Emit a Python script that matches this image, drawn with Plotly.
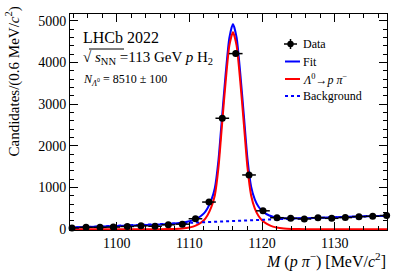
import plotly.graph_objects as go

# ---- data ----
mass = [1093.85, 1095.78, 1097.70, 1099.53, 1101.46, 1103.34, 1105.27, 1107.10,
        1109.03, 1110.84, 1112.70, 1114.53, 1116.38, 1118.21, 1120.13, 1122.06,
        1123.94, 1125.82, 1127.70, 1129.59, 1131.46, 1133.34, 1135.23, 1137.15]
counts = [30, 45, 45, 50, 65, 80, 70, 105, 120, 250, 650, 2660, 4210, 1300, 440, 275,
          260, 245, 275, 260, 278, 300, 310, 326]
count_err = [6, 7, 7, 7, 8, 9, 8, 10, 11, 16, 25, 52, 65, 36, 21, 17,
             16, 16, 17, 16, 17, 17, 18, 18]
bin_half = [0.94] * len(mass)

curve_x = [1093.6, 1096, 1098, 1100, 1102, 1104, 1106, 1108, 1109, 1110, 1110.5,
           1111, 1111.5, 1112, 1112.5, 1113, 1113.5, 1114, 1114.5, 1115, 1115.5,
           1116, 1116.5, 1117, 1117.5, 1118, 1118.5, 1119, 1119.5, 1120, 1120.5,
           1121, 1121.5, 1122, 1123, 1124, 1126, 1128, 1130, 1132, 1134, 1136, 1137.7]
signal_y = [0, 0, 0, 0, 0, 0, 0, 5, 14, 38, 62,
            95, 143, 214, 335, 520, 808, 1474, 2520, 3550, 4400,
            4730, 4400, 3550, 2520, 1474, 808, 500, 323, 214, 143,
            95, 62, 38, 14, 5, 0, 0, 0, 0, 0, 0, 0]
background_y = [38, 52, 63, 75, 87, 99, 113, 132, 141, 150, 154,
                157, 161, 164, 168, 171, 175, 178, 182, 185, 189,
                193, 197, 201, 205, 209, 213, 217, 221, 225, 228,
                232, 235, 238, 245, 251, 264, 276, 288, 298, 307, 317, 325]
fit_y = [s + b for s, b in zip(signal_y, background_y)]

x_ticks = [1100, 1110, 1120, 1130]
y_ticks = [0, 1000, 2000, 3000, 4000, 5000]
legend_labels = ["Data", "Fit", "<i>Λ</i><sup>0</sup>→<i>p</i> <i>π</i><sup>−</sup>", "Background"]

FONT = "Liberation Serif"
L, R, T, B = 70, 20, 14, 44
W, H = 407, 274
PW, PH = W - L - R, H - T - B


def px(xp):
    return (xp - L) / PW


def py(yp):
    return (T + PH - yp) / PH


BLUE, RED = "#0000ff", "#ff0000"

fig = go.Figure()
fig.add_trace(go.Scatter(x=curve_x, y=fit_y, mode="lines", name="Fit",
                         line=dict(color=BLUE, width=2, shape="spline", smoothing=0.6)))
fig.add_trace(go.Scatter(x=curve_x, y=signal_y, mode="lines", name=legend_labels[2],
                         line=dict(color=RED, width=2, shape="spline", smoothing=0.6)))
fig.add_trace(go.Scatter(x=curve_x, y=background_y, mode="lines", name="Background",
                         line=dict(color=BLUE, width=2, dash="dot")))
fig.add_trace(go.Scatter(x=mass, y=counts, mode="markers", name="Data", cliponaxis=False,
                         marker=dict(color="black", size=7),
                         error_x=dict(type="data", array=bin_half, color="black", thickness=1.5, width=0),
                         error_y=dict(type="data", array=count_err, color="black", thickness=1.5, width=0)))

axis_common = dict(showline=True, linecolor="black", linewidth=1, mirror="ticks",
                   ticks="inside", ticklen=8, tickwidth=1, tickcolor="black",
                   showgrid=False, zeroline=False,
                   tickfont=dict(family=FONT, size=14, color="black"))
fig.update_xaxes(range=[1093.57, 1137.2], tickvals=x_ticks,
                 minor=dict(dtick=2, ticklen=4, ticks="inside", tickcolor="black"),
                 **axis_common)
fig.update_yaxes(range=[-20, 5160], tickvals=y_ticks,
                 minor=dict(dtick=200, ticklen=4, ticks="inside", tickcolor="black"),
                 **axis_common)


def text(t, x, y, size, xanchor="left", yanchor="middle", angle=0):
    fig.add_annotation(text=t, x=x, y=y, xref="paper", yref="paper", showarrow=False,
                       xanchor=xanchor, yanchor=yanchor, textangle=angle, borderpad=0,
                       font=dict(family=FONT, size=size, color="black"))


def pline(x0, y0, x1, y1, color="black", width=1, dash="solid"):
    fig.add_shape(type="line", xref="paper", yref="paper", x0=px(x0), x1=px(x1),
                  y0=py(y0), y1=py(y1), line=dict(color=color, width=width, dash=dash))


text("Candidates/(0.6 MeV/<i>c</i><sup>2</sup>)", px(12.5), py(6), 15,
     xanchor="center", yanchor="top", angle=-90)
text("<i>M</i> (<i>p</i> <i>π</i><sup>−</sup>) [MeV/<i>c</i><sup>2</sup>]", 1, py(260), 16,
     xanchor="right")
text("LHCb 2022", px(82), py(37), 16)
text("√ <i>s</i><sub>NN</sub> =113 GeV <i>p</i> H<sub>2</sub>", px(82), py(58), 15)
pline(89, 49, 124, 49)
text("<i>N</i><sub><i>Λ</i><sup>0</sup></sub> = 8510 ± 100", px(82), py(80), 12)

# manual legend
leg_y = [44, 61.5, 79, 96]
pline(284, leg_y[0], 297, leg_y[0], width=1.5)
pline(290.5, leg_y[0] - 5, 290.5, leg_y[0] + 5, width=1.5)
fig.add_shape(type="circle", xref="paper", yref="paper", x0=px(287.3), x1=px(293.7),
              y0=py(leg_y[0] + 3.2), y1=py(leg_y[0] - 3.2), fillcolor="black", line=dict(width=0))
pline(285, leg_y[1], 300, leg_y[1], color=BLUE, width=2)
pline(285, leg_y[2], 300, leg_y[2], color=RED, width=2)
pline(285, leg_y[3], 300, leg_y[3], color=BLUE, width=2, dash="dot")
for lab, yy in zip(legend_labels, leg_y):
    text(lab, px(302), py(yy), 12)

fig.update_layout(
    width=W, height=H, margin=dict(l=L, r=R, t=T, b=B),
    paper_bgcolor="white", plot_bgcolor="white",
    font=dict(family=FONT, color="black"),
    showlegend=False,
)

fig.write_html("out.html", config={"displayModeBar": False},
               post_script="document.body.style.margin='0';document.body.style.padding='0';")
